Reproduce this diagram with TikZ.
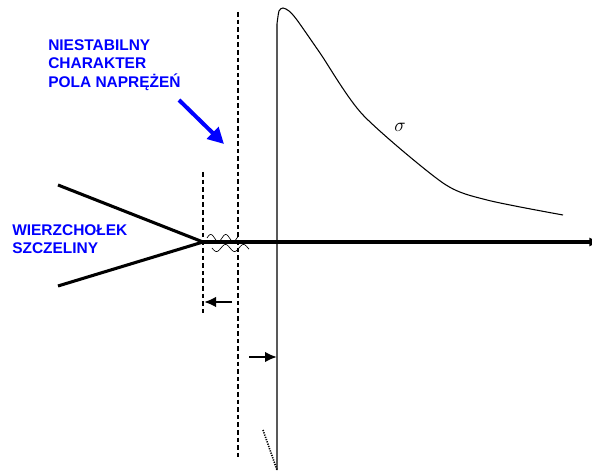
\documentclass[tikz,border=0pt]{standalone}
\usepackage{fontspec}
\setmainfont{Liberation Sans}
\usetikzlibrary{arrows.meta,positioning}

\begin{document}
\begin{tikzpicture}[
    x=0.75pt, y=-0.75pt,
    label/.style={text=blue, font=\bfseries\fontsize{11.6}{14.2}\selectfont, align=left, inner sep=0pt},
    thickline/.style={line width=2.3pt},
    guide/.style={line width=1.1pt, dash pattern=on 3.5pt off 2.2pt},
    arr/.style={-{Latex[length=9pt, width=8pt]}, line width=2pt},
    wave/.style={line width=0.5pt},
]
    \useasboundingbox (0,0) rectangle (592,473);

    % Points
    \coordinate (tip) at (203,242);
    \coordinate (upper) at (58,185);
    \coordinate (lower) at (58,286);
    \coordinate (axisend) at (600,242);

    % Crack
    \draw[thickline] (upper) -- (tip) -- (lower);
    \draw[thickline, -{Latex[length=8pt, width=7pt]}] (tip) -- (axisend);

    % Dashed lines
    \coordinate (d1top) at (203,172);
    \coordinate (d1bot) at (203,316);
    \coordinate (d2top) at (238,12);
    \coordinate (d2bot) at (238,460);
    \draw[guide] (d1top) -- (d1bot);
    \draw[guide] (d2top) -- (d2bot);

    % Waves
    \draw[wave] plot[domain=0:31, samples=50] ({207+\x}, {238-3.5*sin(\x*24)});
    \draw[wave] plot[domain=0:37, samples=60] ({212+\x}, {248+3.5*sin(\x*20)});

    % Stress curve
    \coordinate (sbot) at (277,470);
    \draw[line width=0.8pt] (sbot) -- (277,24) plot[smooth, tension=0.45] coordinates {(277,24) (279,11) (283,8) (289,11) (297,20) (320,53) (363,115) (443,183) (487,200) (563,215)};
    \coordinate (sdot) at (263,430);
    \draw[line width=1.2pt, dash pattern=on 0.9pt off 0.9pt] (sdot) -- (sbot);
    \node[font=\fontsize{15}{15}\selectfont] (sigma) at (400,127) {$\sigma$};

    % Arrows
    \coordinate (a1s) at (232,302);
    \coordinate (a1e) at (204,302);
    \coordinate (a2s) at (249,357);
    \coordinate (a2e) at (277,357);
    \draw[arr] (a1s) -- (a1e);
    \draw[arr] (a2s) -- (a2e);

    % Labels
    \node[label, anchor=north west] (unstable) at (48,39) {NIESTABILNY\\CHARAKTER\\POLA NAPRĘŻEŃ};
    \node[label, anchor=north west] (crack) at (12,224) {WIERZCHOŁEK\\SZCZELINY};

    \coordinate (bs) at (179,100);
    \coordinate (be) at (224,144);
    \draw[blue, line width=3pt, -{Triangle[length=12pt, width=12pt]}] (bs) -- (be);
\end{tikzpicture}
\end{document}
